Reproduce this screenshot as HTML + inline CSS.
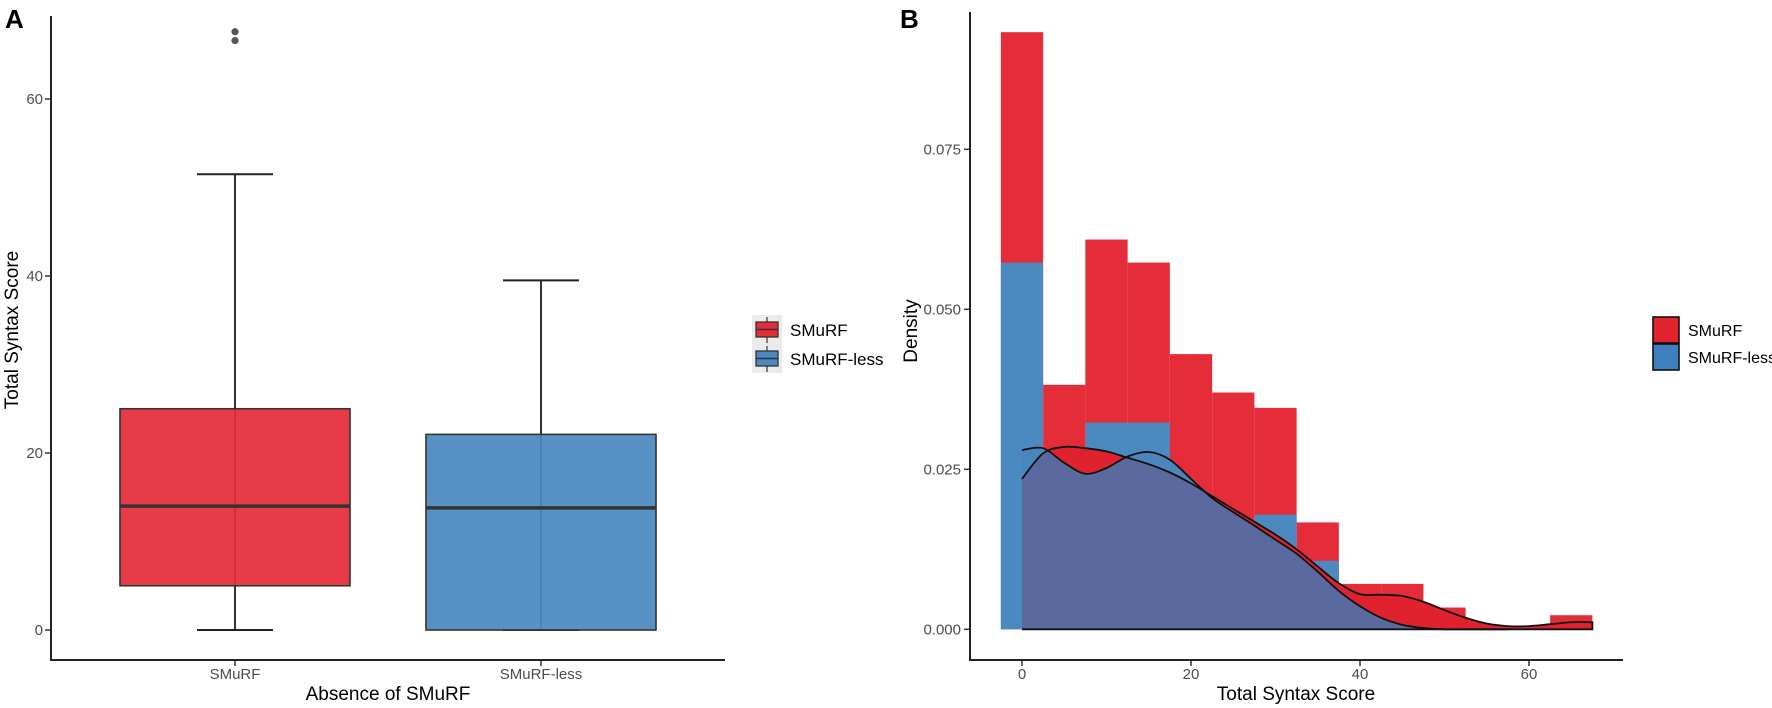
<!DOCTYPE html>
<html><head><meta charset="utf-8"><style>
html,body{margin:0;padding:0;background:#fff}
svg{display:block;font-family:"Liberation Sans",Arial,sans-serif}
</style></head><body>
<svg id="c" width="1772" height="708" viewBox="0 0 1772 708"></svg>
<script>
// ---- Panel A data (boxplot) ----
const boxCats = ["SMuRF","SMuRF-less"];
const boxLow = [0, 0];
const boxQ1 = [5, 0];
const boxMed = [14, 13.8];
const boxQ3 = [25, 22.1];
const boxHigh = [51.5, 39.5];
const boxOutliers = [[66.6, 67.6], []];
const yTicksA = [0, 20, 40, 60];
// ---- Panel B data (histogram + density) ----
const binCenters = [0,5,10,15,20,25,30,35,40,45,50,55,60,65];
const histSMuRF = [0.0933,0.0382,0.0609,0.0573,0.0430,0.0370,0.0346,0.0167,0.0071,0.0071,0.0034,0,0,0.0022];
const histLess = [0.0573,0.0108,0.0323,0.0323,0.018,0.015,0.0179,0.0107,0,0,0,0,0,0];
const densX = [0,2.5,5,7.5,10,12.5,15,17.5,20,22.5,25,27.5,30,32.5,35,37.5,40,42.5,45,47.5,50,52.5,55,57.5,60,62.5,65,67.5];
const densSMuRF = [0.0235,0.0275,0.0285,0.0283,0.0278,0.0268,0.0258,0.0245,0.0228,0.0208,0.0188,0.0168,0.0148,0.0125,0.0098,0.0072,0.0055,0.0054,0.0052,0.0043,0.003,0.0018,0.0009,0.0005,0.0005,0.0008,0.0011,0.0011];
const densLess = [0.028,0.0283,0.026,0.0243,0.0252,0.027,0.0277,0.0265,0.0235,0.0205,0.0183,0.0162,0.014,0.0118,0.009,0.006,0.0036,0.0018,0.0007,0.0002,0,0,0,0];
const xTicksB = [0,20,40,60];
const yTicksB = [0,0.025,0.05,0.075];
const yTickLabelsB = ["0.000","0.025","0.050","0.075"];

const NS="http://www.w3.org/2000/svg";
const svg=document.getElementById('c');
function mk(tag,attrs,parent){const e=document.createElementNS(NS,tag);for(const k in attrs)e.setAttribute(k,attrs[k]);(parent||svg).appendChild(e);return e;}
function txt(s,attrs){const e=mk('text',attrs);e.textContent=s;return e;}

const yA=v=>630-v*8.85;
const xA=i=>235+i*306;
const xB=v=>1022+v*8.45;
const yB=v=>629.3-v/0.025*160;
const colR="#E52D3A", colB="#4B8AC0";

// ===== Panel A =====
let e;
e=txt("A",{x:5,y:28,"font-size":26,"font-weight":"bold",fill:"#000"});

boxCats.forEach((c,i)=>{
  const cx=xA(i), hw=115;
  const g=mk('g',{});
  
  
  mk('line',{x1:cx,x2:cx,y1:yA(boxHigh[i]),y2:yA(boxLow[i]),stroke:"#333","stroke-width":2},g);
  mk('line',{x1:cx-38,x2:cx+38,y1:yA(boxHigh[i]),y2:yA(boxHigh[i]),stroke:"#222","stroke-width":2},g);
  mk('line',{x1:cx-38,x2:cx+38,y1:yA(boxLow[i]),y2:yA(boxLow[i]),stroke:"#222","stroke-width":2},g);
  mk('rect',{x:cx-hw,y:yA(boxQ3[i]),width:2*hw,height:yA(boxQ1[i])-yA(boxQ3[i]),fill:i?colB:colR,"fill-opacity":0.93,stroke:"#333","stroke-width":1.6},g);
  mk('line',{x1:cx-hw,x2:cx+hw,y1:yA(boxMed[i]),y2:yA(boxMed[i]),stroke:"#333","stroke-width":3.5},g);
  boxOutliers[i].forEach(o=>{
    const p=mk('circle',{cx:cx,cy:yA(o),r:3.6,fill:"#555"},g);
    
    
  });
  const t=txt(c,{x:cx,y:679,"text-anchor":"middle","font-size":15,fill:"#4d4d4d"});
  
  mk('line',{x1:cx,x2:cx,y1:660,y2:666,stroke:"#333","stroke-width":1.5});
});
yTicksA.forEach(v=>{
  mk('line',{x1:45,x2:51,y1:yA(v),y2:yA(v),stroke:"#333","stroke-width":1.5});
  const t=txt(String(v),{x:43,y:yA(v)+5,"text-anchor":"end","font-size":15,fill:"#4d4d4d"});
  
});
e=mk('path',{d:"M51 16 V660 H725",fill:"none",stroke:"#222","stroke-width":2});

e=txt("Absence of SMuRF",{x:388,y:700,"text-anchor":"middle","font-size":19,fill:"#000"});

e=txt("Total Syntax Score",{x:18,y:330,"text-anchor":"middle","font-size":19,fill:"#000",transform:"rotate(-90 18 330)"});

// legend A
mk('rect',{x:752,y:315,width:30,height:58,fill:"#ebebeb"});
boxCats.forEach((c,i)=>{
  const y0=322+i*29;
  const g=mk('g',{});
  
  
  mk('line',{x1:767,x2:767,y1:y0-5,y2:y0+21,stroke:"#333","stroke-width":1.2},g);
  mk('rect',{x:756,y:y0,width:22,height:15,fill:i?colB:colR,stroke:"#333","stroke-width":1.3},g);
  mk('line',{x1:756,x2:778,y1:y0+7.5,y2:y0+7.5,stroke:"#333","stroke-width":1.5},g);
  txt(c,{x:790,y:y0+14,"font-size":17,fill:"#000"});
});

// ===== Panel B =====
e=txt("B",{x:900,y:28,"font-size":26,"font-weight":"bold",fill:"#000"});

binCenters.forEach((c,i)=>{
  if(histSMuRF[i]>0){
    const r=mk('rect',{x:xB(c-2.5),y:yB(histSMuRF[i]),width:xB(c+2.5)-xB(c-2.5),height:yB(0)-yB(histSMuRF[i]),fill:colR});
    
    
  }
});
binCenters.forEach((c,i)=>{
  if(histLess[i]>0){
    const r=mk('rect',{x:xB(c-2.5),y:yB(histLess[i]),width:xB(c+2.5)-xB(c-2.5),height:yB(0)-yB(histLess[i]),fill:colB});
    
    
  }
});
function smoothPts(xs,ys){
  const pts=xs.slice(0,ys.length).map((x,i)=>[xB(x),yB(ys[i])]);
  let d="M"+pts[0][0]+" "+pts[0][1];
  for(let i=0;i<pts.length-1;i++){
    const p0=pts[Math.max(0,i-1)],p1=pts[i],p2=pts[i+1],p3=pts[Math.min(pts.length-1,i+2)];
    const c1=[p1[0]+(p2[0]-p0[0])/6,p1[1]+(p2[1]-p0[1])/6];
    const c2=[p2[0]-(p3[0]-p1[0])/6,p2[1]-(p3[1]-p1[1])/6];
    d+=` C${c1[0]} ${c1[1]} ${c2[0]} ${c2[1]} ${p2[0]} ${p2[1]}`;
  }
  return {d,first:pts[0],last:pts[pts.length-1]};
}
const sR=smoothPts(densX,densSMuRF), sB=smoothPts(densX,densLess);
const base=yB(0);
const cp=mk('clipPath',{id:"clipR"});
mk('path',{d:`${sR.d} L${sR.last[0]} ${base} L${sR.first[0]} ${base} Z`},cp);
e=mk('path',{d:`${sR.d} L${sR.last[0]} ${base} L${sR.first[0]} ${base} Z`,fill:"#E0222F"});

e=mk('path',{d:`${sB.d} L${sB.last[0]} ${base} L${sB.first[0]} ${base} Z`,fill:"#4A86BC"});

e=mk('path',{d:`${sB.d} L${sB.last[0]} ${base} L${sB.first[0]} ${base} Z`,fill:"#5B6A9E","clip-path":"url(#clipR)"});

e=mk('path',{d:`${sR.d} L${sR.last[0]} ${base} L${sR.first[0]} ${base}`,fill:"none",stroke:"#111","stroke-width":1.8});

e=mk('path',{d:sB.d,fill:"none",stroke:"#111","stroke-width":1.8});


xTicksB.forEach(v=>{
  mk('line',{x1:xB(v),x2:xB(v),y1:660,y2:666,stroke:"#333","stroke-width":1.5});
  const t=txt(String(v),{x:xB(v),y:679,"text-anchor":"middle","font-size":15,fill:"#4d4d4d"});
  
});
yTicksB.forEach((v,i)=>{
  mk('line',{x1:964,x2:970,y1:yB(v),y2:yB(v),stroke:"#333","stroke-width":1.5});
  const t=txt(yTickLabelsB[i],{x:961,y:yB(v)+5,"text-anchor":"end","font-size":15,fill:"#4d4d4d"});
  
});
e=mk('path',{d:"M970 12 V660 H1623",fill:"none",stroke:"#222","stroke-width":2});

e=txt("Total Syntax Score",{x:1296,y:700,"text-anchor":"middle","font-size":19,fill:"#000"});

e=txt("Density",{x:917,y:331,"text-anchor":"middle","font-size":19,fill:"#000",transform:"rotate(-90 917 331)"});

boxCats.forEach((c,i)=>{
  const y0=317+i*27;
  const g=mk('g',{});
  
  
  mk('rect',{x:1653,y:y0,width:26,height:26,fill:i?"#3F7FBD":"#E2232D",stroke:"#111","stroke-width":1.6},g);
  txt(c,{x:1688,y:y0+19,"font-size":16,fill:"#000"});
});
</script>
</body></html>
